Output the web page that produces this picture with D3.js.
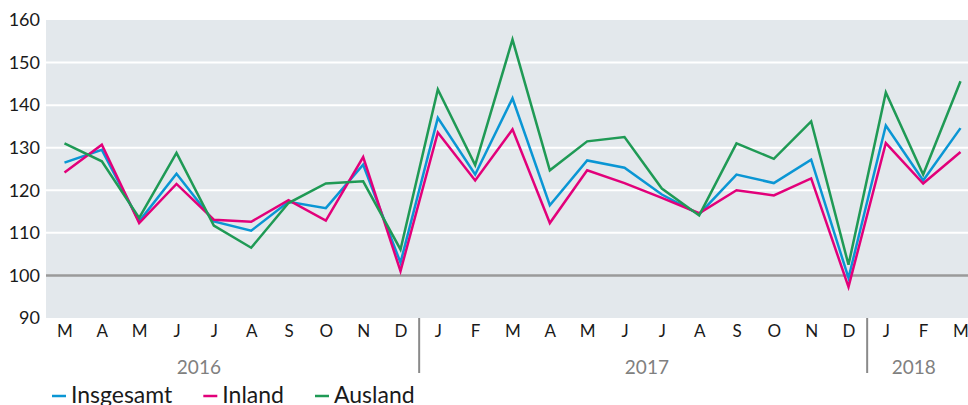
<!DOCTYPE html>
<html>
<head>
<meta charset="utf-8">
<script src="https://cdn.jsdelivr.net/npm/d3@7"></script>
<style>
  body { margin: 0; background: #fff; }
  svg text { font-family: Lato, "Noto Sans", sans-serif; }
</style>
</head>
<body>
<div id="plot"></div>
<script>
// ############ DATA ###############

const months = ["M","A","M","J","J","A","S","O","N","D",
                "J","F","M","A","M","J","J","A","S","O","N","D",
                "J","F","M"];
const years = ["2016","2017","2018"];
// month index of January for each year (2016 starts in March)
const yearStart = [-2, 10, 22];

const insgesamt = [126.5,129.5,112.7,123.9,112.7,110.5,117.3,115.8,126.0,103.0,
                   137.0,123.7,141.6,116.5,127.0,125.3,119.0,114.4,123.7,121.7,127.2,99.4,
                   135.2,122.3,134.6];
const inland    = [124.2,130.7,112.3,121.5,113.1,112.6,117.7,112.9,127.8,101.0,
                   133.6,122.3,134.3,112.3,124.7,121.7,118.2,114.6,120.0,118.8,122.8,97.3,
                   131.1,121.6,129.0];
const ausland   = [131.0,126.8,113.5,128.8,111.7,106.5,117.0,121.6,122.1,106.1,
                   143.7,125.9,155.4,124.7,131.5,132.5,120.4,114.1,131.0,127.4,136.2,102.5,
                   143.0,123.7,145.6];

const yTicks = [90,100,110,120,130,140,150,160];
const seriesNames = ["Insgesamt","Inland","Ausland"];
const seriesData = [insgesamt, inland, ausland];
const colors = ["#0a96d4","#e2007a","#1f9a55"];

// ############ SETUP ###############

const w = 968, h = 405;
const plot = {left: 46, right: 968, top: 20, bottom: 318};

const svg = d3.select("div#plot")
  .append("svg")
  .attr("width", w)
  .attr("height", h);

const xScale = d3.scalePoint()
  .domain(d3.range(months.length))
  .range([64.5, 960.5]);

const yScale = d3.scaleLinear()
  .domain([90, 160])
  .range([plot.bottom, plot.top]);

const step = xScale.step();
const xAt = i => xScale(0) + i * step;

// background
svg.append("rect")
  .attr("x", plot.left)
  .attr("y", plot.top)
  .attr("width", plot.right - plot.left)
  .attr("height", plot.bottom - plot.top)
  .attr("fill", "#e3e8ec");

// gridlines
svg.append("g")
  .attr("id", "grid")
  .selectAll("line")
  .data(yTicks.filter(d => d > 90 && d < 160))
  .enter()
  .append("line")
    .attr("x1", plot.left)
    .attr("x2", plot.right)
    .attr("y1", d => yScale(d))
    .attr("y2", d => yScale(d))
    .attr("stroke", d => d == 100 ? "#9a9a9a" : "#fff")
    .attr("stroke-width", d => d == 100 ? 2.5 : 2);

// y-axis
const yAxis = d3.axisLeft(yScale)
  .tickValues(yTicks)
  .tickSize(0)
  .tickPadding(6);

svg.append("g")
  .attr("id", "yaxis")
  .attr("transform", `translate(${plot.left}, 0)`)
  .call(yAxis)
  .call(g => g.select(".domain").remove())
  .call(g => g.selectAll("text")
    .attr("font-size", 18)
    .attr("fill", "#1a1a1a"));

// x-axis (months)
const xAxis = d3.axisBottom(xScale)
  .tickFormat(i => months[i])
  .tickSize(0)
  .tickPadding(7);

svg.append("g")
  .attr("id", "xaxis")
  .attr("transform", `translate(0, ${plot.bottom})`)
  .call(xAxis)
  .call(g => g.select(".domain").remove())
  .call(g => g.selectAll("text")
    .attr("font-size", 17)
    .attr("fill", "#1a1a1a"));

// year separators
svg.append("g")
  .attr("id", "separators")
  .selectAll("line")
  .data(yearStart.slice(1))
  .enter()
  .append("line")
    .attr("x1", d => xAt(d - 0.5))
    .attr("x2", d => xAt(d - 0.5))
    .attr("y1", plot.bottom)
    .attr("y2", 373)
    .attr("stroke", "#8a8a8a")
    .attr("stroke-width", 2);

// year labels
svg.append("g")
  .attr("id", "years")
  .selectAll("text")
  .data(years)
  .enter()
  .append("text")
    .attr("x", (d, i) => {
      const s = yearStart[i];
      if (s + 11 <= months.length - 1) return xAt(s + 5.6);
      return (xAt(s - 0.5) + xAt(months.length - 1)) / 2;
    })
    .attr("y", 374)
    .attr("text-anchor", "middle")
    .attr("font-size", 19)
    .attr("fill", "#808080")
    .text(d => d);

// ############ LINES ###############

const line = d3.line()
  .x((d, i) => xScale(i))
  .y(d => yScale(d));

svg.append("g")
  .attr("id", "lines")
  .selectAll("path")
  .data(seriesData)
  .enter()
  .append("path")
    .attr("d", line)
    .attr("fill", "none")
    .attr("stroke", (d, i) => colors[i])
    .attr("stroke-width", 2.5)
    .attr("stroke-linejoin", "miter");

// ############ LEGEND ###############

const legend = svg.append("g").attr("id", "legend");
let lx = 52;
seriesNames.forEach((name, i) => {
  legend.append("line")
    .attr("x1", lx)
    .attr("x2", lx + 14)
    .attr("y1", 396)
    .attr("y2", 396)
    .attr("stroke", colors[i])
    .attr("stroke-width", 2.5);
  const t = legend.append("text")
    .attr("x", lx + 19)
    .attr("y", 403)
    .attr("font-size", 23)
    .attr("fill", "#1a1a1a")
    .text(name);
  lx += 19 + t.node().getComputedTextLength() + 31;
});
</script>
</body>
</html>
